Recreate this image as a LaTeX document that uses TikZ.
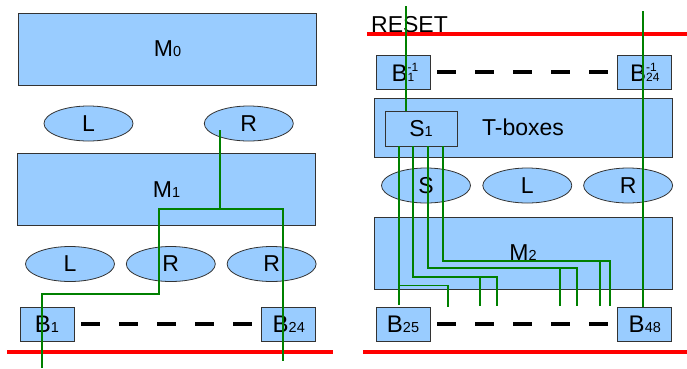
\documentclass[tikz,border=0pt]{standalone}
\usepackage{fontspec}
\setmainfont{Liberation Sans}
\usetikzlibrary{positioning,shapes.geometric}
\definecolor{cellblue}{RGB}{153,204,255}
\definecolor{wiregreen}{RGB}{0,128,0}
\newcommand{\lo}[1]{{\fontsize{14.5}{14.5}\selectfont #1}}
\newcommand{\inv}[1]{\rlap{\raisebox{10pt}{\fontsize{12}{12}\selectfont -1}}{\fontsize{12}{12}\selectfont #1}}

\begin{document}
\begin{tikzpicture}[x=1pt,y=-1pt,>=stealth]
\tikzstyle{layer}=[draw=black!80,fill=cellblue,line width=0.8pt,minimum width=298pt,minimum height=72pt,inner sep=0pt,font=\fontsize{23}{23}\selectfont]
\tikzstyle{half}=[draw=black!80,fill=cellblue,ellipse,line width=0.8pt,minimum width=89pt,minimum height=35pt,inner sep=0pt,font=\fontsize{23}{23}\selectfont]
\tikzstyle{bytebox}=[draw=black!80,fill=cellblue,line width=0.8pt,minimum width=54pt,minimum height=34pt,inner sep=0pt,font=\fontsize{24}{24}\selectfont]
\tikzstyle{sbox}=[draw=black!80,fill=cellblue,line width=0.8pt,minimum width=72pt,minimum height=35pt,inner sep=0pt,font=\fontsize{23}{23}\selectfont]
\tikzstyle{wire}=[wiregreen,line width=1.3pt]
\tikzstyle{reset}=[red,line width=3.5pt]
\tikzstyle{gap}=[line width=4.5pt,dash pattern=on 19pt off 19pt,shorten <=7pt,shorten >=7pt]
\useasboundingbox (0,0) rectangle (687,368);
% left half: two rounds
\node[layer] (m0) at (167.5,49) {M\lo{0}};
\node[half] (l0) at (88.5,123.5) {L};
\node[half,right=70.5pt of l0] (r0) {R};
\node[layer] (m1) at (166.5,189.5) {M\lo{1}};
\node[half] (l1) at (70,264) {L};
\node[half,right=11pt of l1] (r1) {R};
\node[half,right=11pt of r1] (r2) {R};
\node[bytebox] (b1) at (47,324) {B\lo{1}};
\node[bytebox,right=187pt of b1] (b24) {B\lo{24}};
\draw[gap] (b1) -- (b24);
\draw[reset] (7,352) -- (333,352);
% right half: inverse side
\node[anchor=base west,inner sep=0pt,font=\fontsize{23}{23}\selectfont] (rst) at (371,32) {RESET};
\draw[reset] (367,34) -- (687,34);
\node[bytebox] (c1) at (403,72) {B\inv{1}};
\node[bytebox,right=187pt of c1] (c24) {B\inv{24}};
\draw[gap] (c1) -- (c24);
\node[layer,minimum height=59pt] (tb) at (523,127.5) {T-boxes};
\node[sbox] (s1) at (421,128.5) {S\lo{1}};
\node[half] (s) at (426,185.5) {S};
\node[half,right=11.5pt of s] (l2) {L};
\node[half,right=11pt of l2] (r3) {R};
\node[layer] (m2) at (523,253) {M\lo{2}};
\node[bytebox] (b25) at (403,324) {B\lo{25}};
\node[bytebox,right=187pt of b25] (b48) {B\lo{48}};
\draw[gap] (b25) -- (b48);
\draw[reset] (363,352) -- (687,352);
% green paths
\coordinate (in0) at (220,130);
\coordinate (fork) at (220,209);
\coordinate (out1) at (42,368);
\coordinate (out24) at (283,361);
\draw[wire] (in0) -- (fork) -| ++(-61,85) -| (out1);
\draw[wire] (fork) -| (out24);
\coordinate (in1) at (406,6);
\draw[wire] (in1) -- (in1 |- s1.north);
\coordinate (in24) at (643,11);
\draw[wire] (in24) -- (in24 |- b48.north);
\draw[wire] ([xshift=-22pt]s1.south) -- ++(0,159);
\draw[wire] ([xshift=-22pt]s1.south) ++(0,139) -| ++(49,22);
\foreach \dx/\yb/\xa/\xb in {-8/277/480/497,7/268/560/577,22/261/600/610}{
  \draw[wire] ([xshift=\dx pt]s1.south) |- (\xb,\yb) -- (\xb,306);
  \draw[wire] (\xa,\yb) -- (\xa,306);
}
\end{tikzpicture}
\end{document}
